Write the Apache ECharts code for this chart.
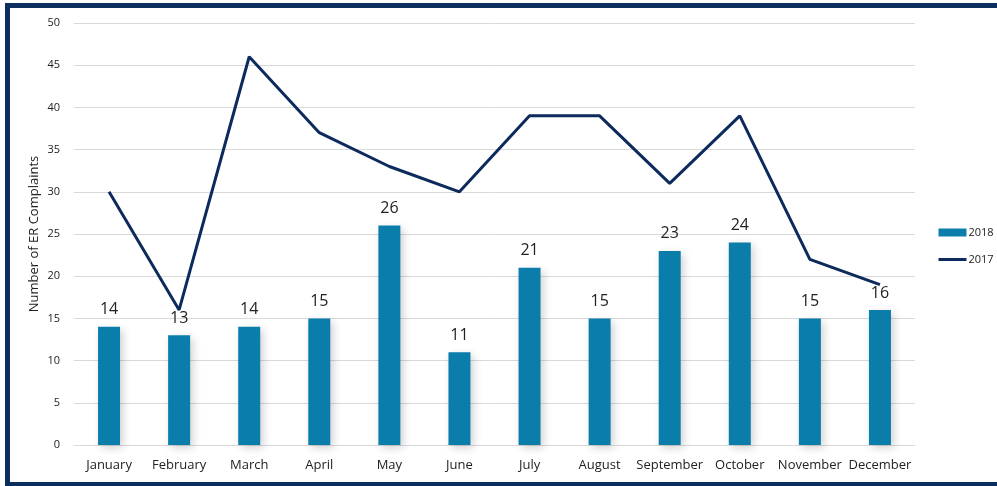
<!DOCTYPE html>
<html>
<head>
<meta charset="utf-8">
<script src="https://cdn.jsdelivr.net/npm/echarts@6/dist/echarts.min.js"></script>
<style>
  html, body { margin: 0; padding: 0; background: #fff; }
  #chart { position: absolute; left: 0; top: 0; width: 997px; height: 486px; }
  .frame {
    position: absolute; left: 5px; top: 3px; width: 992px; height: 474px;
    border-left: 5px solid #0c2e5e; border-top: 5px solid #0c2e5e; border-bottom: 5px solid #0c2e5e;
    pointer-events: none;
  }
</style>
</head>
<body>
<div id="chart"></div>
<div class="frame"></div>
<script>
const months = ['January', 'February', 'March', 'April', 'May', 'June', 'July', 'August', 'September', 'October', 'November', 'December'];
const complaints2018 = [14, 13, 14, 15, 26, 11, 21, 15, 23, 24, 15, 16];
const complaints2017 = [30, 16, 46, 37, 33, 30, 39, 39, 31, 39, 22, 19];

const textColor = '#222';
const gridLineColor = '#d9d9d9';
const lineColor = '#0c2a5b';

const chart = echarts.init(document.getElementById('chart'));
chart.setOption({
  textStyle: { fontFamily: 'Open Sans' },
  grid: { left: 74, right: 82, top: 23, bottom: 41 },
  legend: {
    orient: 'vertical',
    left: 937,
    top: 227,
    padding: 0,
    itemWidth: 28,
    itemHeight: 8,
    itemGap: 16,
    textStyle: { fontSize: 11, color: textColor, padding: [0, 0, 0, -3] },
    data: [
      { name: '2018', icon: 'rect' },
      { name: '2017', itemStyle: { opacity: 0 }, lineStyle: { width: 3, color: lineColor } }
    ]
  },
  xAxis: {
    type: 'category',
    data: months,
    axisTick: { show: false },
    axisLine: { lineStyle: { color: gridLineColor } },
    axisLabel: { color: textColor, fontSize: 13, margin: 14, interval: 0 }
  },
  yAxis: {
    type: 'value',
    min: 0,
    max: 50,
    interval: 5,
    name: 'Number of ER Complaints',
    nameLocation: 'middle',
    nameGap: 33,
    nameMoveOverlap: false,
    nameTextStyle: { color: textColor, fontSize: 13 },
    axisLabel: { color: textColor, fontSize: 11, margin: 14 },
    splitLine: { lineStyle: { color: gridLineColor } }
  },
  series: [
    {
      name: '2018',
      type: 'bar',
      data: complaints2018,
      barWidth: 22,
      itemStyle: {
        color: '#0a7dab',
        shadowColor: 'rgba(0,0,0,0.18)',
        shadowBlur: 8,
        shadowOffsetX: 3,
        shadowOffsetY: 3
      },
      label: { show: true, position: 'top', color: textColor, fontSize: 16, distance: 9 }
    },
    {
      name: '2017',
      type: 'line',
      data: complaints2017,
      symbol: 'none',
      lineStyle: { width: 3, color: lineColor },
      itemStyle: { color: lineColor }
    }
  ]
});
</script>
</body>
</html>
